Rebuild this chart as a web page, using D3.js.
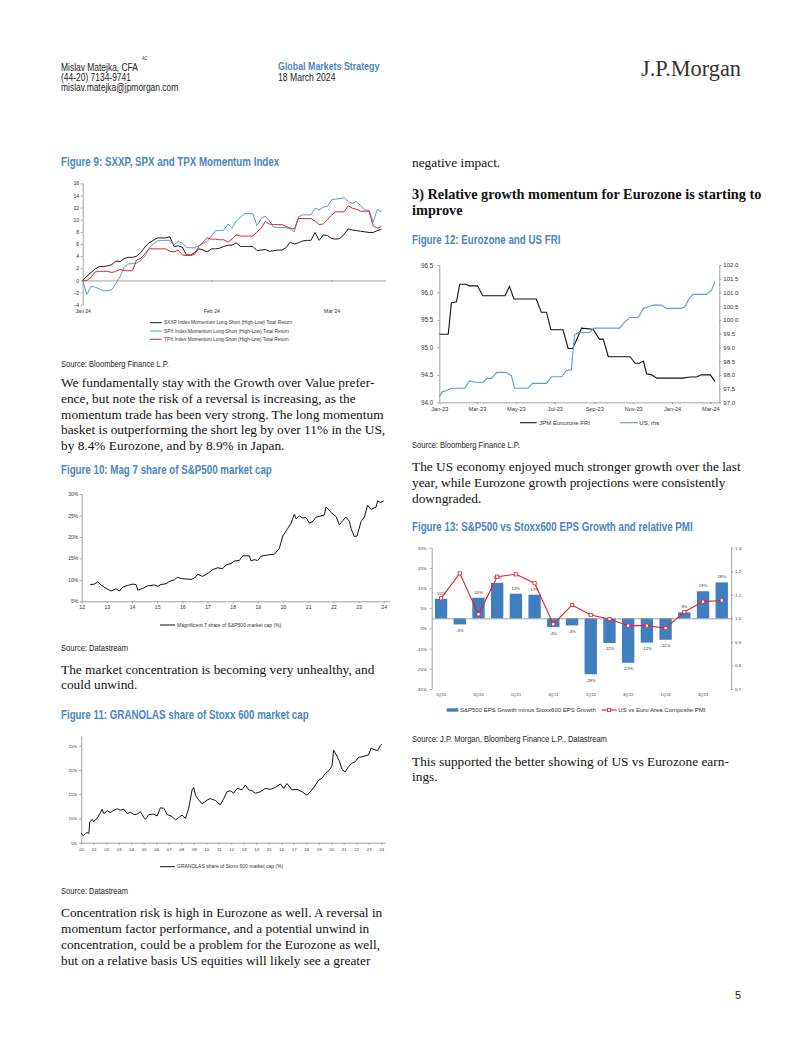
<!DOCTYPE html>
<html><head><meta charset="utf-8">
<script src="https://cdn.jsdelivr.net/npm/d3@7"></script>
<style>
body{margin:0;background:#fff;}
svg{display:block;}
</style></head><body>
<svg id="page" width="802" height="1037"></svg>
<script>
// ================= DATA =================
// Figure 9: daily values from 1 Jan 2024
const fig9Start = "2024-01-01";
const fig9SXXP = [0,0.7,1.3,1.9,2.3,2.3,2.4,2.6,3.2,3.1,3.6,3.8,3.8,4.0,4.6,5.5,6.2,6.6,7.0,7.0,7.0,7.2,5.6,5.7,5.5,4.2,4.2,4.6,5.2,5.0,4.7,5.2,5.2,5.3,5.6,5.8,5.8,6.2,5.6,5.6,5.6,5.6,4.9,5.0,5.1,4.8,4.9,5.0,5.0,5.4,6.3,6.0,6.2,6.5,6.6,6.6,7.9,6.6,7.5,7.4,6.9,6.8,6.9,7.6,8.5,8.3,8.2,8.1,8.0,7.9,7.9,8.2,8.4];
const fig9SPX = [0,-2.3,-1.0,-1.1,-1.4,-1.7,-1.7,-1.5,-0.5,0.6,2.2,2.7,2.8,2.8,3.3,4.0,5.3,6.0,6.5,6.6,6.6,6.6,5.9,6.4,6.2,5.4,5.4,5.4,5.7,6.1,6.4,7.3,8.2,8.2,8.3,9.3,8.6,9.8,10.4,11.0,11.0,11.0,9.0,10.2,10.6,9.8,8.8,8.7,8.7,8.7,8.5,8.0,10.5,10.8,10.8,10.8,11.9,11.6,12.1,12.2,13.3,13.4,13.5,13.6,13.0,12.7,13.0,12.3,11.6,11.6,9.6,11.7,11.3];
const fig9TPX = [0,0,0.5,1.4,1.5,1.5,1.5,1.3,1.5,1.8,1.6,1.6,1.6,3.4,3.6,4.4,5.2,5.2,5.2,5.2,5.2,4.8,4.7,5.0,4.2,4.1,4.1,4.3,5.6,6.3,7.0,6.8,6.8,6.7,6.7,6.3,6.8,7.5,7.3,7.3,7.3,7.3,8.0,8.6,9.7,9.3,9.2,9.2,9.2,8.9,8.6,8.5,10.2,10.2,10.2,10.2,9.8,9.2,9.3,10.0,10.8,11.3,11.3,11.3,12.3,11.9,11.7,11.4,11.4,11.4,9.0,8.6,8.9];
const fig9Legend = ["SXXP Index Momentum Long-Short (High-Low) Total Return","SPX Index Momentum Long-Short (High-Low) Total Return","TPX Index Momentum Long-Short (High-Low) Total Return"];
const fig9YTicks = [-4,-2,0,2,4,6,8,10,12,14,16];
const fig9XTicks = ["2024-01-01","2024-02-01","2024-03-01"];
const fig9XLabels = ["Jan 24","Feb 24","Mar 24"];

// Figure 10: Mag 7 share of S&P500 market cap (%)
const mag7Years = [2012.34,2012.50,2012.64,2012.77,2012.97,2013.17,2013.36,2013.50,2013.63,2013.83,2014.03,2014.16,2014.23,2014.42,2014.62,2014.89,2015.02,2015.15,2015.35,2015.48,2015.68,2015.81,2015.95,2016.15,2016.34,2016.48,2016.61,2016.81,2017.01,2017.21,2017.40,2017.60,2017.74,2017.93,2018.07,2018.26,2018.40,2018.66,2018.73,2018.86,2018.99,2019.13,2019.39,2019.66,2019.85,2019.99,2020.19,2020.32,2020.45,2020.52,2020.65,2020.78,2020.91,2021.05,2021.18,2021.31,2021.51,2021.64,2021.71,2021.91,2022.11,2022.24,2022.37,2022.50,2022.64,2022.70,2022.83,2022.94,2023.10,2023.23,2023.36,2023.50,2023.70,2023.76,2023.87,2024.00];
const mag7Share = [8.9,9.0,9.5,8.8,8.0,7.4,7.9,7.4,8.3,8.7,9.0,8.9,7.6,8.0,8.6,8.8,8.5,8.9,9.1,9.6,10.0,10.6,10.3,10.2,10.1,10.4,11.3,10.8,11.5,12.4,12.8,12.6,13.5,13.8,14.4,14.5,15.6,15.6,14.4,14.7,14.5,15.5,15.8,16.0,17.3,20.2,22.0,23.2,25.3,24.2,24.9,24.4,24.5,23.2,23.6,24.6,24.9,25.1,27.0,25.7,24.7,22.8,23.8,24.6,23.6,22.0,20.1,20.2,23.6,24.6,27.4,26.4,27.0,28.4,28.0,28.4];
const fig10YTicks = [5,10,15,20,25,30];
const fig10XTicks = [2012,2013,2014,2015,2016,2017,2018,2019,2020,2021,2022,2023,2024];
const fig10XLabels = ["12","13","14","15","16","17","18","19","20","21","22","23","24"];
const fig10Legend = "Magnificent 7 share of S&P500 market cap (%)";

// Figure 11: GRANOLAS share of Stoxx 600 market cap (%)
const granYears = [2000.00,2000.16,2000.35,2000.48,2000.61,2000.69,2000.88,2001.01,2001.15,2001.28,2001.49,2001.68,2001.81,2002.08,2002.34,2002.61,2002.88,2003.14,2003.41,2003.68,2003.94,2004.21,2004.48,2004.74,2005.01,2005.14,2005.41,2005.81,2006.07,2006.34,2006.61,2006.87,2007.27,2007.54,2007.80,2008.07,2008.34,2008.60,2008.87,2009.00,2009.14,2009.40,2009.67,2010.07,2010.34,2010.74,2011.13,2011.40,2011.67,2011.93,2012.20,2012.47,2012.87,2013.13,2013.40,2013.67,2013.93,2014.33,2014.73,2015.13,2015.53,2015.93,2016.20,2016.46,2016.86,2017.26,2017.66,2018.06,2018.46,2018.73,2018.99,2019.26,2019.53,2019.79,2020.06,2020.19,2020.41,2020.67,2020.86,2021.12,2021.39,2021.66,2021.92,2022.19,2022.46,2022.72,2022.99,2023.18,2023.44,2023.71,2023.92,2024.05];
const granShare = [7.0,6.4,6.9,7.1,6.9,9.3,9.8,9.3,9.8,10.0,11.0,11.9,11.0,11.6,11.2,11.7,12.0,11.7,11.9,11.0,11.3,10.8,10.9,11.4,10.2,9.8,10.8,10.9,10.5,12.2,12.1,10.8,10.4,9.7,10.2,10.7,10.0,12.1,15.9,16.4,14.8,13.8,13.0,13.8,14.1,13.7,12.8,14.1,15.5,15.7,15.2,16.2,15.9,16.9,15.9,15.7,15.2,15.5,16.2,16.0,16.4,17.1,16.2,17.2,15.9,16.0,15.5,14.8,15.9,16.9,17.9,18.3,19.3,19.8,20.8,24.1,23.1,21.7,20.1,19.6,20.7,21.4,21.7,22.6,22.7,22.9,23.1,24.5,24.2,24.0,25.0,25.3];
const fig11YTicks = [5,10,15,20,25];
const fig11XTicks = d3.range(2000, 2025);
const fig11XLabels = ["00","01","02","03","04","05","06","07","08","09","10","11","12","13","14","15","16","17","18","19","20","21","22","23","24"];
const fig11Legend = "GRANOLAS share of Stoxx 600 market cap (%)";

// Figure 12: Eurozone and US FRI
const ezDates = ["2023-01-01","2023-01-15","2023-01-20","2023-01-28","2023-02-02","2023-02-12","2023-02-17","2023-03-02","2023-03-10","2023-04-14","2023-04-21","2023-04-28","2023-06-02","2023-06-10","2023-06-18","2023-06-25","2023-07-14","2023-07-22","2023-07-29","2023-08-04","2023-08-12","2023-08-30","2023-09-09","2023-09-15","2023-09-23","2023-10-27","2023-11-04","2023-11-11","2023-11-17","2023-11-22","2023-11-30","2023-12-08","2024-01-18","2024-01-29","2024-02-08","2024-02-16","2024-03-01","2024-03-08"];
const ezFRI = [95.24,95.24,95.81,95.83,96.15,96.15,96.12,96.12,95.94,95.94,96.11,95.88,95.88,95.64,95.64,95.32,95.32,94.98,94.98,95.13,95.35,95.33,95.15,95.15,94.83,94.83,94.71,94.71,94.75,94.52,94.50,94.44,94.44,94.46,94.46,94.50,94.50,94.38];
const usDates = ["2023-01-01","2023-01-06","2023-01-12","2023-01-20","2023-02-10","2023-02-17","2023-02-26","2023-03-11","2023-03-17","2023-03-24","2023-04-01","2023-04-15","2023-04-24","2023-04-29","2023-05-20","2023-05-27","2023-06-18","2023-06-26","2023-07-12","2023-07-19","2023-07-27","2023-08-01","2023-08-07","2023-08-25","2023-08-31","2023-10-11","2023-10-17","2023-10-27","2023-11-09","2023-11-17","2023-11-22","2023-12-02","2023-12-15","2023-12-23","2024-01-16","2024-01-21","2024-01-28","2024-02-03","2024-02-24","2024-03-03","2024-03-08"];
const usFRI = [97.2,97.39,97.42,97.51,97.51,97.78,97.73,97.73,97.87,97.87,98.09,98.09,97.97,97.51,97.51,97.69,97.69,97.93,97.93,98.15,98.18,99.45,99.54,99.54,99.70,99.70,99.88,100.09,100.09,100.42,100.45,100.54,100.54,100.42,100.42,100.48,100.79,100.93,100.93,101.09,101.39];
const fig12LeftTicks = [94.0,94.5,95.0,95.5,96.0,96.5];
const fig12RightTicks = [97.0,97.5,98.0,98.5,99.0,99.5,100.0,100.5,101.0,101.5,102.0];
const fig12XTicks = ["2023-01-01","2023-03-01","2023-05-01","2023-07-01","2023-09-01","2023-11-01","2024-01-01","2024-03-01"];
const fig12XLabels = ["Jan-23","Mar-23","May-23","Jul-23","Sep-23","Nov-23","Jan-24","Mar-24"];
const fig12Legend = ["JPM Eurozone FRI","US, rhs"];

// Figure 13: S&P500 vs Stoxx600 EPS growth gap (%) and relative PMI
const quarters = ["1Q'20","2Q'20","3Q'20","4Q'20","1Q'21","2Q'21","3Q'21","4Q'21","1Q'22","2Q'22","3Q'22","4Q'22","1Q'23","2Q'23","3Q'23","4Q'23"];
const epsGap = [9.7,-3.0,10.2,17.6,12.2,11.7,-4.3,-3.5,-27.7,-12.2,-22.0,-12.0,-10.6,3.0,13.4,17.8];
const epsLabels = ["10%","-3%","10%","18%","12%","12%","-4%","-3%","-28%","-12%","-22%","-12%","-11%","3%","13%","18%"];
const pmiRatio = [1.085,1.191,1.017,1.177,1.187,1.149,0.975,1.057,1.014,0.997,0.969,0.969,0.958,1.027,1.071,1.076];
const fig13LeftTicks = [-35,-25,-15,-5,5,15,25,35];
const fig13RightTicks = [0.7,0.8,0.9,1.0,1.1,1.2,1.3];
const fig13XLabels = ["1Q'20","3Q'20","1Q'21","3Q'21","1Q'22","3Q'22","1Q'23","3Q'23"];
const fig13Legend = ["S&P500 EPS Growth minus Stoxx600 EPS Growth","US vs Euro Area Composite PMI"];

// ================= DRAWING =================
const svg = d3.select('#page');
svg.append('rect').attr('width',802).attr('height',1037).attr('fill','#fff');

const SANS = "'Liberation Sans',Arial,Helvetica,sans-serif";
const NARROW_FACE = "'Liberation Sans Narrow','Arial Narrow'";
const SERIF = "'Liberation Serif','Times New Roman',serif";
const BLUE_T = "#4a86c4";

function measure(fam, w) {
  const t = svg.append('text').attr('font-family',fam).attr('font-size',20).attr('font-weight',w||'normal').text('Mislav Matejka Global Markets');
  const l = t.node().getComputedTextLength(); t.remove(); return l;
}
const hasNarrow = Math.abs(measure(NARROW_FACE+",monospace") - measure("monospace")) > 0.5;

function text(g, x, y, str, o = {}) {
  const narrow = o.narrow;
  const t = g.append('text').attr('x', x).attr('y', y)
    .attr('font-family', narrow && hasNarrow ? NARROW_FACE + ",sans-serif" : (o.family || SANS))
    .attr('font-size', o.size || 10)
    .attr('font-weight', o.weight || 'normal')
    .attr('fill', o.color || '#000')
    .attr('text-anchor', o.anchor || 'start')
    .text(str);
  if (narrow && !hasNarrow) {
    const L = t.node().getComputedTextLength();
    t.attr('textLength', L * 0.82).attr('lengthAdjust', 'spacingAndGlyphs');
  }
  return t;
}
const page = svg.append('g');

// ---------- header ----------
text(page, 61, 70.5, "Mislav Matejka, CFA", {narrow:true, size:10.3, color:'#222'});
text(page, 142, 60.3, "AC", {narrow:true, size:4.8, color:'#222'});
text(page, 61, 80.5, "(44-20) 7134-9741", {narrow:true, size:10.3, color:'#222'});
text(page, 61, 90.5, "mislav.matejka@jpmorgan.com", {narrow:true, size:10.3, color:'#222'});
text(page, 278, 70, "Global Markets Strategy", {narrow:true, size:10.8, weight:'bold', color:BLUE_T});
text(page, 278, 80.5, "18 March 2024", {narrow:true, size:10.5, color:'#222'});
text(page, 641, 75.5, "J.P.Morgan", {family:SERIF, size:24, color:'#3a3030'}).attr('textLength',100).attr('lengthAdjust','spacingAndGlyphs');

// ---------- body text ----------
function para(x, y0, lh, lines, o) { lines.forEach((l, i) => text(page, x, y0 + i * lh, l, o)); }
const BODY = {family:SERIF, size:13.35, color:'#111'};
const SRC = {narrow:true, size:9.2, color:'#222'};
const TITLE = {narrow:true, size:11.9, weight:'bold', color:BLUE_T};

text(page, 61, 166, "Figure 9: SXXP, SPX and TPX Momentum Index", TITLE);
text(page, 61, 367, "Source: Bloomberg Finance L.P.", SRC);
para(61, 386.8, 15.85, [
  "We fundamentally stay with the Growth over Value prefer-",
  "ence, but note the risk of a reversal is increasing, as the",
  "momentum trade has been very strong. The long momentum",
  "basket is outperforming the short leg by over 11% in the US,",
  "by 8.4% Eurozone, and by 8.9% in Japan."], BODY);
text(page, 61, 474, "Figure 10: Mag 7 share of S&P500 market cap", TITLE);
text(page, 61, 650.5, "Source: Datastream", SRC);
para(61, 673.5, 15.85, [
  "The market concentration is becoming very unhealthy, and",
  "could unwind."], BODY);
text(page, 61, 719, "Figure 11: GRANOLAS share of Stoxx 600 market cap", TITLE);
text(page, 61, 894, "Source: Datastream", SRC);
para(61, 916.5, 16.2, [
  "Concentration risk is high in Eurozone as well. A reversal in",
  "momentum factor performance, and a potential unwind in",
  "concentration, could be a problem for the Eurozone as well,",
  "but on a relative basis US equities will likely see a greater"], BODY);

text(page, 412, 167, "negative impact.", BODY);
para(412, 198.8, 16, [
  "3) Relative growth momentum for Eurozone is starting to",
  "improve"], {family:SERIF, size:14.3, weight:'bold', color:'#111'});
text(page, 412, 244, "Figure 12: Eurozone and US FRI", TITLE);
text(page, 412, 447.5, "Source: Bloomberg Finance L.P.", SRC);
para(412, 471, 15.85, [
  "The US economy enjoyed much stronger growth over the last",
  "year, while Eurozone growth projections were consistently",
  "downgraded."], BODY);
text(page, 412, 530.5, "Figure 13: S&P500 vs Stoxx600 EPS Growth and relative PMI", TITLE);
text(page, 412, 741.5, "Source: J.P. Morgan, Bloomberg Finance L.P., Datastream", SRC);
para(412, 765.5, 15.85, [
  "This supported the better showing of US vs Eurozone earn-",
  "ings."], BODY);
text(page, 735, 999, "5", {size:11, color:'#222'});

// ---------- common axis styling ----------
const AXC = '#8c8c8c';
function styleAxis(g, size) {
  g.selectAll('path.domain').attr('stroke', AXC).attr('stroke-width', 0.8);
  g.selectAll('.tick line').attr('stroke', AXC).attr('stroke-width', 0.8);
  g.selectAll('.tick text').attr('font-family', SANS).attr('font-size', size).attr('fill', '#333');
  return g;
}

// ---------- Figure 9 ----------
{
  const parse = d3.utcParse("%Y-%m-%d");
  const g = svg.append('g');
  const x = d3.scaleUtc().domain([parse("2024-01-01"), parse("2024-03-14")]).range([82.7, 385.6]);
  const y = d3.scaleLinear().domain([-4, 16]).range([304.7, 183.3]);
  const dates = fig9SXXP.map((_, i) => d3.utcDay.offset(parse(fig9Start), i));
  styleAxis(g.append('g').attr('transform', 'translate(82.7,0)')
    .call(d3.axisLeft(y).tickValues(fig9YTicks).tickSize(2).tickSizeOuter(0).tickPadding(1.5).tickFormat(d3.format('d'))), 5.2);
  styleAxis(g.append('g').attr('transform', `translate(0,${y(0)})`)
    .call(d3.axisBottom(x).tickValues(fig9XTicks.map(parse)).tickSize(2).tickSizeOuter(0).tickFormat('')), 5);
  styleAxis(g.append('g').attr('transform', 'translate(0,306)')
    .call(d3.axisBottom(x).tickValues(fig9XTicks.map(parse)).tickSize(0).tickPadding(3)
      .tickFormat((d, i) => fig9XLabels[i])), 5.2).select('path.domain').remove();
  const line = d3.line().x((d, i) => x(dates[i])).y(d => y(d));
  const series = [[fig9SXXP, '#1a1a1a'], [fig9SPX, '#5b9bd5'], [fig9TPX, '#e3242b']];
  series.forEach(([vals, c]) => g.append('path').attr('d', line(vals)).attr('fill', 'none').attr('stroke', c).attr('stroke-width', 1));
  series.forEach(([vals, c], i) => {
    const yy = 322.7 + i * 8.3;
    g.append('line').attr('x1', 150).attr('x2', 161.7).attr('y1', yy).attr('y2', yy).attr('stroke', c).attr('stroke-width', 1);
    text(g, 164, yy + 1.7, fig9Legend[i], {size:4.8, color:'#333'});
  });
}

// ---------- Figure 10 ----------
{
  const g = svg.append('g');
  const x = d3.scaleLinear().domain([2012, 2024.25]).range([81.7, 390]);
  const y = d3.scaleLinear().domain([5, 30]).range([601.3, 494]);
  styleAxis(g.append('g').attr('transform', 'translate(81.7,0)')
    .call(d3.axisLeft(y).tickValues(fig10YTicks).tickSize(2).tickSizeOuter(0).tickPadding(1.5).tickFormat(d => d + '%')), 5);
  styleAxis(g.append('g').attr('transform', 'translate(0,601.3)')
    .call(d3.axisBottom(x).tickValues(fig10XTicks).tickSize(2).tickSizeOuter(0).tickPadding(2)
      .tickFormat((d, i) => fig10XLabels[i])), 5.2);
  g.append('path').attr('d', d3.line().x((d, i) => x(mag7Years[i])).y(d => y(d))(mag7Share))
    .attr('fill', 'none').attr('stroke', '#111').attr('stroke-width', 1);
  g.append('line').attr('x1', 160).attr('x2', 175).attr('y1', 625).attr('y2', 625).attr('stroke', '#111').attr('stroke-width', 1);
  text(g, 177, 626.7, fig10Legend, {size:5, color:'#333'});
}

// ---------- Figure 11 ----------
{
  const g = svg.append('g');
  const x = d3.scaleLinear().domain([2000, 2024.3]).range([81.2, 385]);
  const y = d3.scaleLinear().domain([5, 27]).range([842.7, 736]);
  styleAxis(g.append('g').attr('transform', 'translate(81.2,0)')
    .call(d3.axisLeft(y).tickValues(fig11YTicks).tickSize(2).tickSizeOuter(0).tickPadding(2).tickFormat(d => d + '%')), 4.3);
  styleAxis(g.append('g').attr('transform', 'translate(0,842.7)')
    .call(d3.axisBottom(x).tickValues(fig11XTicks).tickSize(2).tickSizeOuter(0).tickPadding(3)
      .tickFormat((d, i) => fig11XLabels[i])), 4.3);
  g.append('path').attr('d', d3.line().x((d, i) => x(granYears[i])).y(d => y(d))(granShare))
    .attr('fill', 'none').attr('stroke', '#111').attr('stroke-width', 1);
  g.append('line').attr('x1', 160).attr('x2', 175).attr('y1', 866.7).attr('y2', 866.7).attr('stroke', '#111').attr('stroke-width', 1);
  text(g, 177, 868.4, fig11Legend, {size:5, color:'#333'});
}

// ---------- Figure 12 ----------
{
  const parse = d3.utcParse("%Y-%m-%d");
  const g = svg.append('g');
  const x = d3.scaleUtc().domain([parse("2023-01-01"), parse("2024-03-15")]).range([439.3, 719.3]);
  const yL = d3.scaleLinear().domain([94, 96.5]).range([402.3, 265]);
  const yR = d3.scaleLinear().domain([97, 102]).range([402.3, 265]);
  styleAxis(g.append('g').attr('transform', 'translate(439.3,0)')
    .call(d3.axisLeft(yL).tickValues(fig12LeftTicks).tickSize(2).tickSizeOuter(0).tickPadding(4).tickFormat(d3.format('.1f'))), 6.3);
  styleAxis(g.append('g').attr('transform', 'translate(719.3,0)')
    .call(d3.axisRight(yR).tickValues(fig12RightTicks).tickSize(2).tickSizeOuter(0).tickPadding(2).tickFormat(d3.format('.1f'))), 6);
  styleAxis(g.append('g').attr('transform', 'translate(0,402.3)')
    .call(d3.axisBottom(x).tickValues(fig12XTicks.map(parse)).tickSize(2).tickSizeOuter(0).tickPadding(3)
      .tickFormat((d, i) => fig12XLabels[i])), 5.6);
  g.append('path').attr('d', d3.line().x((d, i) => x(parse(ezDates[i]))).y(d => yL(d))(ezFRI))
    .attr('fill', 'none').attr('stroke', '#111').attr('stroke-width', 1.1);
  g.append('path').attr('d', d3.line().x((d, i) => x(parse(usDates[i]))).y(d => yR(d))(usFRI))
    .attr('fill', 'none').attr('stroke', '#5b9bd5').attr('stroke-width', 1.1);
  g.append('line').attr('x1', 520).attr('x2', 536.7).attr('y1', 422.7).attr('y2', 422.7).attr('stroke', '#111').attr('stroke-width', 1.1);
  text(g, 539.3, 424.8, fig12Legend[0], {size:6, color:'#333'});
  g.append('line').attr('x1', 620).attr('x2', 638).attr('y1', 422.7).attr('y2', 422.7).attr('stroke', '#5b9bd5').attr('stroke-width', 1.1);
  text(g, 639.3, 424.8, fig12Legend[1], {size:6, color:'#333'});
}

// ---------- Figure 13 ----------
{
  const g = svg.append('g');
  const x = d3.scaleBand().domain(quarters).range([431.7, 731.1]).paddingInner(0.34).paddingOuter(0.17);
  const yL = d3.scaleLinear().domain([-35, 35]).range([689, 547.7]);
  const yR = d3.scaleLinear().domain([0.7, 1.3]).range([689, 547.7]);
  styleAxis(g.append('g').attr('transform', 'translate(431.7,0)')
    .call(d3.axisLeft(yL).tickValues(fig13LeftTicks).tickSize(2).tickSizeOuter(0).tickPadding(3).tickFormat(d => d + '%')), 4.3);
  styleAxis(g.append('g').attr('transform', 'translate(731.1,0)')
    .call(d3.axisRight(yR).tickValues(fig13RightTicks).tickSize(2).tickSizeOuter(0).tickPadding(2).tickFormat(d3.format('.1f'))), 4.3);
  g.selectAll('rect.bar').data(epsGap).enter().append('rect').attr('class', 'bar')
    .attr('x', (d, i) => x(quarters[i])).attr('width', x.bandwidth())
    .attr('y', d => yL(Math.max(0, d))).attr('height', d => Math.abs(yL(d) - yL(0)))
    .attr('fill', '#3f7fc0');
  styleAxis(g.append('g').attr('transform', `translate(0,${yL(0)})`)
    .call(d3.axisBottom(x).tickValues([]).tickSizeOuter(0)), 4);
  styleAxis(g.append('g').attr('transform', 'translate(0,689)')
    .call(d3.axisBottom(x).tickValues(quarters.filter((q, i) => i % 2 === 0)).tickSize(0).tickPadding(4)
      .tickFormat((d, i) => fig13XLabels[i])), 3.9).select('path.domain').remove();
  epsGap.forEach((d, i) => {
    const cx = x(quarters[i]) + x.bandwidth() / 2;
    const yy = d >= 0 ? yL(d) - 4 : yL(d) + 7.5;
    text(g, cx, yy, epsLabels[i], {size:4.3, color:'#333', anchor:'middle'});
  });
  const cx = (d, i) => x(quarters[i]) + x.bandwidth() / 2;
  g.append('path').attr('d', d3.line().x(cx).y(d => yR(d))(pmiRatio))
    .attr('fill', 'none').attr('stroke', '#e3242b').attr('stroke-width', 1.1);
  g.selectAll('rect.mk').data(pmiRatio).enter().append('rect').attr('class', 'mk')
    .attr('x', (d, i) => cx(d, i) - 1.6).attr('y', d => yR(d) - 1.6).attr('width', 3.2).attr('height', 3.2)
    .attr('fill', '#fff').attr('stroke', '#e3242b').attr('stroke-width', 0.8);
  g.append('rect').attr('x', 446.7).attr('y', 708.3).attr('width', 11.6).attr('height', 3.4).attr('fill', '#3f7fc0');
  text(g, 460, 712, fig13Legend[0], {size:6, color:'#333'});
  g.append('line').attr('x1', 601.7).attr('x2', 616.7).attr('y1', 710).attr('y2', 710).attr('stroke', '#e3242b').attr('stroke-width', 1.1);
  g.append('rect').attr('x', 607.6).attr('y', 708.4).attr('width', 3.2).attr('height', 3.2).attr('fill', '#fff').attr('stroke', '#e3242b').attr('stroke-width', 0.8);
  text(g, 618.3, 712, fig13Legend[1], {size:6, color:'#333'});
}
</script>
</body></html>
